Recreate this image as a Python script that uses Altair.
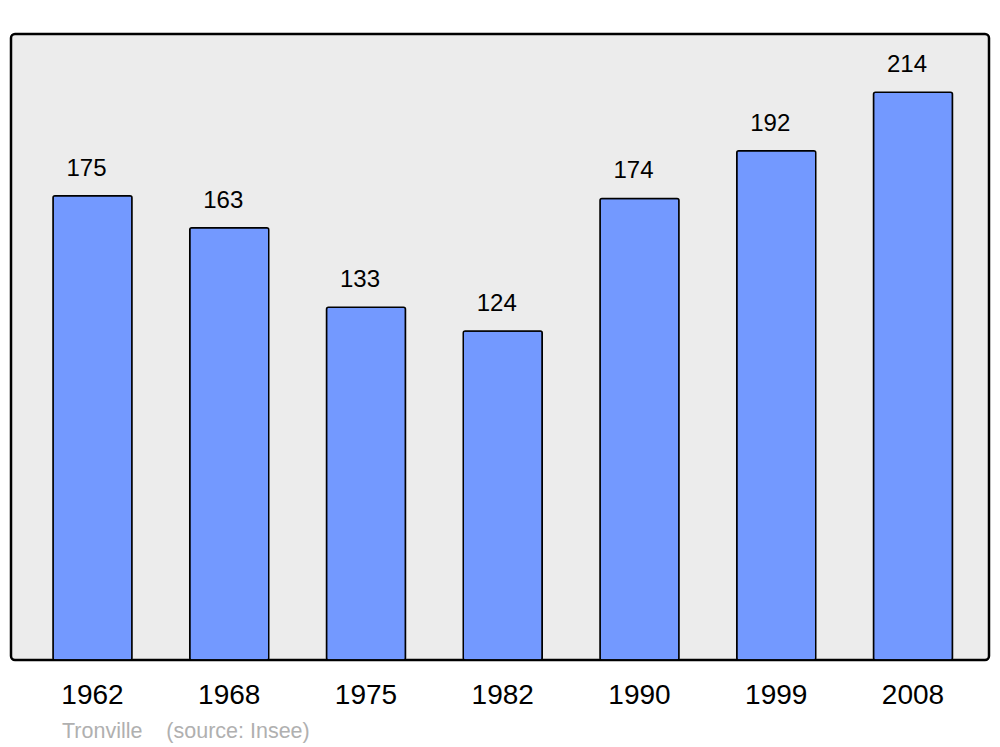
import altair as alt
import pandas as pd

years = ["1962", "1968", "1975", "1982", "1990", "1999", "2008"]
population = [175, 163, 133, 124, 174, 192, 214]
source_note = "Tronville\u00a0\u00a0\u00a0\u00a0(source: Insee)"

df = pd.DataFrame({"year": years, "pop": population})

x = alt.X("year:N", sort=years, title=None,
          scale=alt.Scale(paddingInner=0.4223, paddingOuter=0.287, align=0.535),
          axis=alt.Axis(labelAngle=0, labelFontSize=28, labelFont="Liberation Sans",
                        labelColor="#000000", labelPadding=21, ticks=False,
                        domain=False, grid=False))
y = alt.Y("pop:Q", title=None, scale=alt.Scale(domain=[0, 236], nice=False, zero=True),
          axis=None)

bars = alt.Chart(df).mark_bar(fill="#7399ff", stroke="#000000", strokeWidth=1.5,
                              cornerRadius=2).encode(x=x, y=y)

labels = alt.Chart(df).mark_text(fontSize=24, font="Liberation Sans", color="#000000",
                                 dy=-20, dx=-6, baseline="alphabetic").encode(
    x=alt.X("year:N", sort=years), y="pop:Q", text="pop:Q")

note = alt.Chart(pd.DataFrame({"t": [source_note]})).mark_text(
    fontSize=21.5, font="Liberation Sans", color="#b0b0b0", align="left",
    baseline="alphabetic").encode(x=alt.value(51), y=alt.value(704), text="t:N")

chart = alt.layer(bars, labels, note).properties(
    width=978, height=626,
    padding={"left": 3, "top": 26, "right": 3, "bottom": 88},
    autosize="none",
    background="#ffffff",
).configure_view(
    fill="#ececec", stroke="#000000", strokeWidth=2.5, cornerRadius=4
)

chart.save("out.html", embed_options={"renderer": "svg", "actions": False})
